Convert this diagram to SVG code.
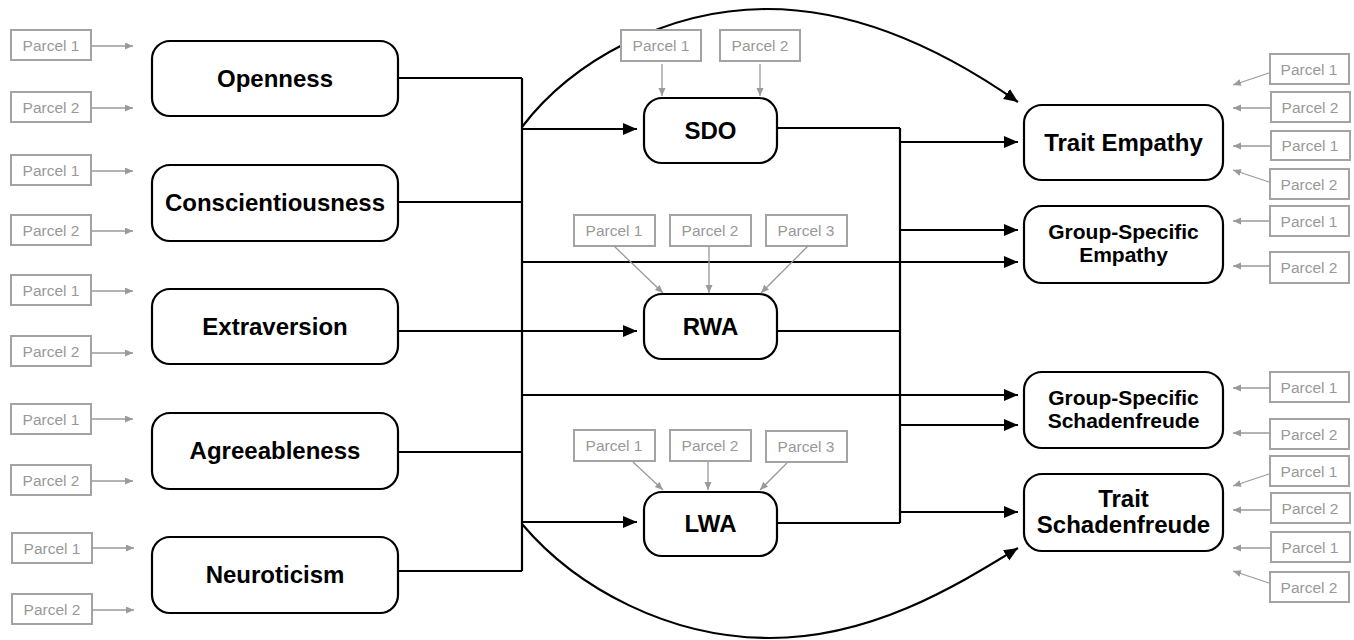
<svg xmlns="http://www.w3.org/2000/svg" width="1354" height="640" viewBox="0 0 1354 640">
  <style>
    .node { fill: #fff; stroke: #000; stroke-width: 2.2; }
    .lbl { font-family: "Liberation Sans", Arial, sans-serif; font-weight: bold; font-size: 24px; fill: #000; text-anchor: middle; }
    .lbl2 { font-family: "Liberation Sans", Arial, sans-serif; font-weight: bold; font-size: 21px; fill: #000; text-anchor: middle; }
    .pbox { fill: #fff; stroke: #a3a3a3; stroke-width: 2; }
    .ptxt { font-family: "Liberation Sans", Arial, sans-serif; font-size: 15.5px; fill: #999; text-anchor: middle; }
    .parr { fill: none; stroke: #9a9a9a; stroke-width: 1.3; marker-end: url(#ga); }
    .wire { fill: none; stroke: #000; stroke-width: 2.2; }
    .path { fill: none; stroke: #000; stroke-width: 2.2; marker-end: url(#ba); }
  </style>
  <defs>
    <marker id="ba" markerUnits="userSpaceOnUse" markerWidth="16" markerHeight="14" refX="14" refY="6" orient="auto">
      <path d="M0,0 L14,6 L0,12 z" fill="#000"/>
    </marker>
    <marker id="ga" markerUnits="userSpaceOnUse" markerWidth="10" markerHeight="8" refX="8" refY="3.5" orient="auto">
      <path d="M0,0 L8,3.5 L0,7 z" fill="#9a9a9a"/>
    </marker>
  </defs>
  <rect width="1354" height="640" fill="#fff"/>

  <!-- structural paths (drawn first so parcel boxes sit on top of the curves) -->
  <g id="connectors">
    <path class="wire" d="M398,78 H522 M398,202 H522 M398,452 H522 M398,571 H522 M522,78 V571"/>
    <path class="path" d="M522,129 H637"/>
    <path class="path" d="M398,331 H637"/>
    <path class="path" d="M522,522 H637"/>
    <path class="path" d="M522,262 H1018"/>
    <path class="path" d="M522,395 H1018"/>
    <path class="wire" d="M777,128 H900 M777,331 H900 M777,523 H900 M900,128 V523"/>
    <path class="path" d="M900,142 H1018"/>
    <path class="path" d="M900,230 H1018"/>
    <path class="path" d="M900,425 H1018"/>
    <path class="path" d="M900,512 H1018"/>
    <path class="path" d="M522,127 C572,61 667,9 767,9 C867,9 958,60 1018,102"/>
    <path class="path" d="M522,524 C577,589 670,638 770,638 C870,638 953,588 1018,548"/>
  </g>

  <!-- indicator parcels and their arrows -->
  <g id="parcels">
    <!-- personality traits -->
    <g>
      <rect class="pbox" x="11" y="30" width="80" height="30"/><text class="ptxt" x="51" y="51">Parcel 1</text>
      <rect class="pbox" x="11" y="92" width="80" height="30"/><text class="ptxt" x="51" y="113">Parcel 2</text>
      <rect class="pbox" x="11" y="155" width="80" height="30"/><text class="ptxt" x="51" y="176">Parcel 1</text>
      <rect class="pbox" x="11" y="215" width="80" height="30"/><text class="ptxt" x="51" y="236">Parcel 2</text>
      <rect class="pbox" x="11" y="275" width="80" height="30"/><text class="ptxt" x="51" y="296">Parcel 1</text>
      <rect class="pbox" x="11" y="336" width="80" height="30"/><text class="ptxt" x="51" y="357">Parcel 2</text>
      <rect class="pbox" x="11" y="404" width="80" height="30"/><text class="ptxt" x="51" y="425">Parcel 1</text>
      <rect class="pbox" x="11" y="465" width="80" height="30"/><text class="ptxt" x="51" y="486">Parcel 2</text>
      <rect class="pbox" x="12" y="533" width="80" height="30"/><text class="ptxt" x="52" y="554">Parcel 1</text>
      <rect class="pbox" x="12" y="594" width="80" height="30"/><text class="ptxt" x="52" y="615">Parcel 2</text>
      <path class="parr" d="M91,46 H133"/>
      <path class="parr" d="M91,108 H133"/>
      <path class="parr" d="M91,171 H133"/>
      <path class="parr" d="M91,231 H133"/>
      <path class="parr" d="M91,291 H133"/>
      <path class="parr" d="M91,353 H133"/>
      <path class="parr" d="M91,419 H133"/>
      <path class="parr" d="M91,481 H133"/>
      <path class="parr" d="M92,548 H134"/>
      <path class="parr" d="M92,610 H134"/>
    </g>
    <!-- SDO -->
    <g>
      <rect class="pbox" x="621" y="30" width="80" height="31"/><text class="ptxt" x="661" y="51">Parcel 1</text>
      <rect class="pbox" x="720" y="30" width="80" height="31"/><text class="ptxt" x="760" y="51">Parcel 2</text>
      <path class="parr" d="M662,64 V96"/>
      <path class="parr" d="M760,64 V96"/>
    </g>
    <!-- RWA -->
    <g>
      <rect class="pbox" x="574" y="215" width="81" height="31"/><text class="ptxt" x="614" y="236">Parcel 1</text>
      <rect class="pbox" x="670" y="215" width="81" height="31"/><text class="ptxt" x="710" y="236">Parcel 2</text>
      <rect class="pbox" x="766" y="215" width="81" height="31"/><text class="ptxt" x="806" y="236">Parcel 3</text>
      <path class="parr" d="M614,246 L663,293"/>
      <path class="parr" d="M709,246 V293"/>
      <path class="parr" d="M808,246 L761,293"/>
    </g>
    <!-- LWA -->
    <g>
      <rect class="pbox" x="574" y="430" width="81" height="31"/><text class="ptxt" x="614" y="451">Parcel 1</text>
      <rect class="pbox" x="670" y="430" width="81" height="31"/><text class="ptxt" x="710" y="451">Parcel 2</text>
      <rect class="pbox" x="766" y="431" width="81" height="31"/><text class="ptxt" x="806" y="452">Parcel 3</text>
      <path class="parr" d="M633,462 L663,490"/>
      <path class="parr" d="M708,462 V490"/>
      <path class="parr" d="M787,463 L760,490"/>
    </g>
    <!-- outcomes -->
    <g>
      <rect class="pbox" x="1270" y="54" width="79" height="30"/><text class="ptxt" x="1309" y="75">Parcel 1</text>
      <rect class="pbox" x="1271" y="92" width="79" height="30"/><text class="ptxt" x="1310" y="113">Parcel 2</text>
      <rect class="pbox" x="1271" y="131" width="79" height="29"/><text class="ptxt" x="1310" y="151">Parcel 1</text>
      <rect class="pbox" x="1270" y="169" width="79" height="30"/><text class="ptxt" x="1309" y="190">Parcel 2</text>
      <rect class="pbox" x="1270" y="206" width="79" height="30"/><text class="ptxt" x="1309" y="227">Parcel 1</text>
      <rect class="pbox" x="1270" y="252" width="79" height="31"/><text class="ptxt" x="1309" y="273">Parcel 2</text>
      <rect class="pbox" x="1270" y="372" width="79" height="30"/><text class="ptxt" x="1309" y="393">Parcel 1</text>
      <rect class="pbox" x="1270" y="419" width="79" height="30"/><text class="ptxt" x="1309" y="440">Parcel 2</text>
      <rect class="pbox" x="1270" y="456" width="79" height="30"/><text class="ptxt" x="1309" y="477">Parcel 1</text>
      <rect class="pbox" x="1271" y="493" width="79" height="30"/><text class="ptxt" x="1310" y="514">Parcel 2</text>
      <rect class="pbox" x="1271" y="532" width="79" height="30"/><text class="ptxt" x="1310" y="553">Parcel 1</text>
      <rect class="pbox" x="1270" y="572" width="79" height="30"/><text class="ptxt" x="1309" y="593">Parcel 2</text>
      <path class="parr" d="M1269,73 L1233,85"/>
      <path class="parr" d="M1270,108 H1233"/>
      <path class="parr" d="M1270,146 H1233"/>
      <path class="parr" d="M1269,182 L1233,170"/>
      <path class="parr" d="M1269,221 H1233"/>
      <path class="parr" d="M1269,266 H1233"/>
      <path class="parr" d="M1269,388 H1233"/>
      <path class="parr" d="M1269,433 H1233"/>
      <path class="parr" d="M1269,474 L1233,486"/>
      <path class="parr" d="M1270,510 H1233"/>
      <path class="parr" d="M1270,548 H1233"/>
      <path class="parr" d="M1269,583 L1233,571"/>
    </g>
  </g>

  <!-- personality traits -->
  <g id="openness"><rect class="node" x="152" y="41" width="246" height="75" rx="18"/><text class="lbl" x="275" y="87">Openness</text></g>
  <g id="conscientiousness"><rect class="node" x="152" y="165" width="246" height="76" rx="18"/><text class="lbl" x="275" y="211">Conscientiousness</text></g>
  <g id="extraversion"><rect class="node" x="152" y="289" width="246" height="75" rx="18"/><text class="lbl" x="275" y="335">Extraversion</text></g>
  <g id="agreeableness"><rect class="node" x="152" y="413" width="246" height="76" rx="18"/><text class="lbl" x="275" y="459">Agreeableness</text></g>
  <g id="neuroticism"><rect class="node" x="152" y="537" width="246" height="76" rx="18"/><text class="lbl" x="275" y="583">Neuroticism</text></g>

  <!-- ideological attitudes -->
  <g id="sdo"><rect class="node" x="644" y="98" width="133" height="65" rx="18"/><text class="lbl" x="710.5" y="139">SDO</text></g>
  <g id="rwa"><rect class="node" x="644" y="294" width="133" height="65" rx="18"/><text class="lbl" x="710.5" y="335">RWA</text></g>
  <g id="lwa"><rect class="node" x="644" y="492" width="133" height="64" rx="18"/><text class="lbl" x="710.5" y="532">LWA</text></g>

  <!-- outcomes -->
  <g id="trait-empathy"><rect class="node" x="1024" y="105" width="199" height="75" rx="18"/><text class="lbl" x="1123.5" y="151">Trait Empathy</text></g>
  <g id="group-empathy"><rect class="node" x="1024" y="206" width="199" height="77" rx="18"/><text class="lbl2" x="1123.5" y="239">Group-Specific<tspan x="1123.5" y="262">Empathy</tspan></text></g>
  <g id="group-schadenfreude"><rect class="node" x="1024" y="372" width="199" height="76" rx="18"/><text class="lbl2" x="1123.5" y="405">Group-Specific<tspan x="1123.5" y="428">Schadenfreude</tspan></text></g>
  <g id="trait-schadenfreude"><rect class="node" x="1024" y="474" width="199" height="77" rx="18"/><text class="lbl" x="1123.5" y="507">Trait<tspan x="1123.5" y="533">Schadenfreude</tspan></text></g>
</svg>
